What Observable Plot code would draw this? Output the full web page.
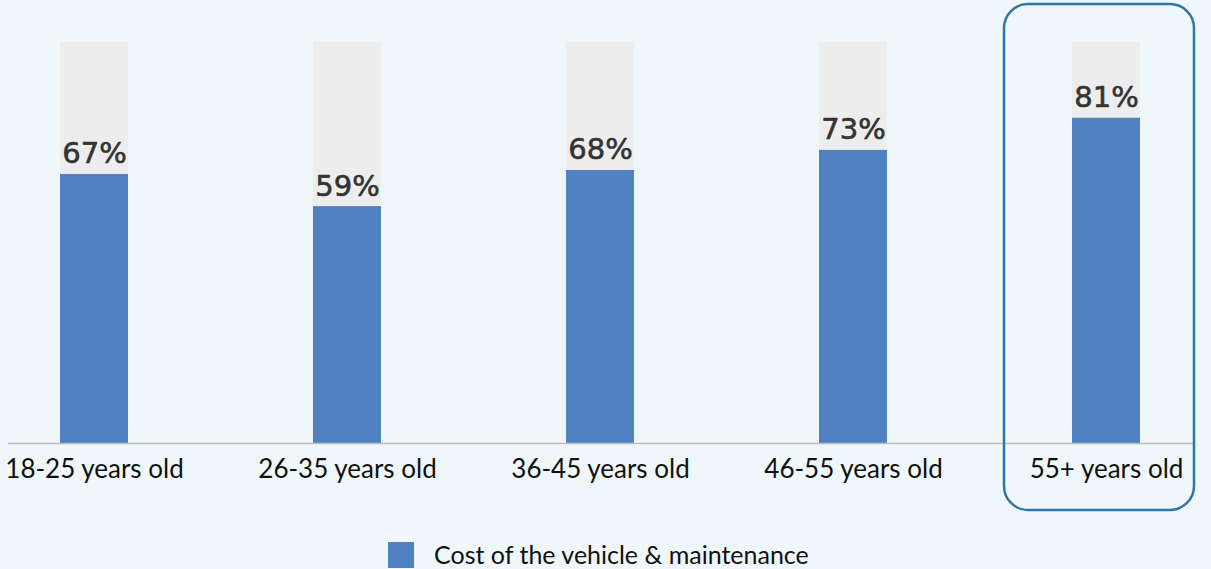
<!DOCTYPE html>
<html>
<head>
<meta charset="utf-8">
<script src="https://cdn.jsdelivr.net/npm/d3@7"></script>
<script src="https://cdn.jsdelivr.net/npm/@observablehq/plot@0.6"></script>
<style>
  html, body { margin: 0; padding: 0; background: #f0f7fb; }
  #chart { width: 1211px; height: 569px; position: relative; overflow: hidden; }
  #legend { position: absolute; left: 388px; top: 521px; height: 48px; display: flex; align-items: center; font-family: Lato, "Open Sans", sans-serif; font-size: 25px; color: #111; }
  #legend .sw { width: 26px; height: 26px; background: #4f81c3; margin-right: 20px; margin-top: 20px; }
  #legend .lb { margin-top: 17px; }
</style>
</head>
<body>
<div id="chart"></div>
<script>
const categories = ["18-25 years old", "26-35 years old", "36-45 years old", "46-55 years old", "55+ years old"];
const values = [0.67, 0.59, 0.68, 0.73, 0.81];
const totals = [1, 1, 1, 1, 1];
const highlighted = ["55+ years old"];
const seriesName = "Cost of the vehicle & maintenance";

const data = categories.map((c, i) => ({category: c, value: values[i], total: totals[i]}));

const plot = Plot.plot({
  width: 1211,
  height: 520,
  marginLeft: 8,
  marginRight: 17,
  marginTop: 0,
  marginBottom: 77,
  style: {background: "transparent", overflow: "visible"},
  x: {domain: categories, range: [-33.5, 1234], paddingInner: 0.732, paddingOuter: 0.366, label: null},
  y: {domain: [0, 1], range: [443, 41.5], axis: null},
  marks: [
    Plot.barY(data, {x: "category", y: "total", fill: "#ededed"}),
    Plot.barY(data, {x: "category", y: "value", fill: "#4f81c3"}),
    Plot.ruleY([0], {stroke: "#bdbdbd", strokeWidth: 1.5}),
    Plot.text(data, {x: "category", y: "value", text: d => Math.round(d.value * 100) + "%",
      dy: -11, lineAnchor: "bottom", fontSize: 29, fontWeight: "normal", fill: "#333",
      stroke: "#333", strokeWidth: 0.6,
      fontFamily: "DejaVu Sans"}),
    Plot.axisX({tickSize: 0, tickPadding: 16, fontSize: 26, fontFamily: "Lato", color: "#111", label: null}),
    Plot.barY(highlighted, {x: d => d, y1: 0, y2: 1, fill: "none", stroke: "#2f76a8", strokeWidth: 2.5,
      rx: 24, insetLeft: -68, insetRight: -54, insetTop: -37.5, insetBottom: -67})
  ]
});
document.getElementById("chart").appendChild(plot);

const legend = document.createElement("div");
legend.id = "legend";
legend.innerHTML = `<div class="sw"></div><div class="lb"></div>`;
legend.querySelector(".lb").textContent = seriesName;
document.getElementById("chart").appendChild(legend);
</script>
</body>
</html>
